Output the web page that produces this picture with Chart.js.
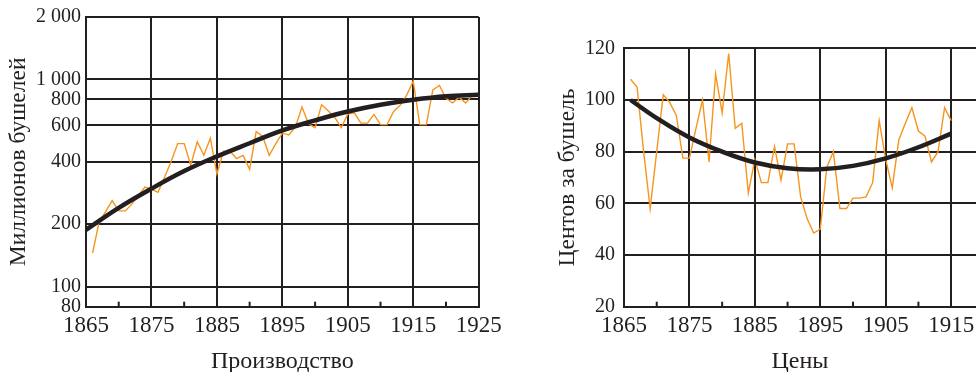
<!DOCTYPE html>
<html><head><meta charset="utf-8">
<script src="https://cdn.jsdelivr.net/npm/chart.js@4.4.1/dist/chart.umd.min.js"></script>
<style>
html,body{margin:0;padding:0;width:976px;height:372px;overflow:hidden;background:#fff;}
#c1{position:absolute;left:0;top:0;}
#c2{position:absolute;left:540px;top:0;}
</style></head><body>
<canvas id="c1" width="520" height="372"></canvas>
<canvas id="c2" width="460" height="372"></canvas>
<script>
// ---------- data ----------
const prodYears = [1866,1867,1868,1869,1870,1871,1872,1873,1874,1875,1876,1877,1878,1879,1880,1881,1882,1883,1884,1885,1886,1887,1888,1889,1890,1891,1892,1893,1894,1895,1896,1897,1898,1899,1900,1901,1902,1903,1904,1905,1906,1907,1908,1909,1910,1911,1912,1913,1914,1915,1916,1917,1918,1919,1920,1921,1922,1923,1924,1925];
const production = [145,205,230,260,232,232,250,275,302,295,285,337,400,490,490,385,500,430,520,350,450,450,415,430,368,560,530,430,490,550,540,590,735,610,585,755,705,655,585,680,690,615,615,678,605,605,700,750,840,980,605,605,890,935,810,770,820,770,835,830];
const prodTrendYears = [1865,1870,1875,1880,1885,1890,1895,1900,1905,1910,1915,1920,1925];
const prodTrend = [188,240,297,361,425,492,567,634,700,755,798,830,843];

const priceYears = [1866,1867,1868,1869,1870,1871,1872,1873,1874,1875,1876,1877,1878,1879,1880,1881,1882,1883,1884,1885,1886,1887,1888,1889,1890,1891,1892,1893,1894,1895,1896,1897,1898,1899,1900,1901,1902,1903,1904,1905,1906,1907,1908,1909,1910,1911,1912,1913,1914,1915];
const prices = [108,105,80,58,80,102,99,94,77.5,77.5,89,100,76,110,95,118,89,91,64,77,68,68,82,69,83,83,62.5,54,48.5,50,74,80,58,58,62,62,62.5,68,92,77,66,84.5,91,97,88,86,76,80,97,92];
const priceTrendYears = [1866,1870,1875,1880,1885,1890,1895,1900,1905,1910,1915];
const priceTrend = [100,93,85.5,80,75.8,73.6,73.2,74.5,77.4,81.7,87];

const prodXTicks = [1865,1875,1885,1895,1905,1915,1925];
const prodXMinor = [1870,1880,1890,1900,1910,1920];
const prodYTicks = [80,100,200,400,600,800,1000,2000];
const prodYLabels = ['80','100','200','400','600','800','1 000','2 000'];

const priceXTicks = [1865,1875,1885,1895,1905,1915];
const priceXMinor = [1870,1880,1890,1900,1910];
const priceYTicks = [20,40,60,80,100,120];
const priceYLabels = ['20','40','60','80','100','120'];

// ---------- style ----------
const INK = '#231F20';
const ORANGE = '#F7941D';
const FONT = "'Liberation Serif','Times New Roman',serif";

const minorTicks = {
  id: 'minorTicks',
  afterDatasetsDraw(chart, args, opts) {
    const xs = chart.scales.x, ca = chart.chartArea, ctx = chart.ctx;
    ctx.save();
    ctx.strokeStyle = INK; ctx.lineWidth = 2;
    for (const v of opts.values) {
      const px = xs.getPixelForValue(v);
      ctx.beginPath(); ctx.moveTo(px, ca.bottom); ctx.lineTo(px, ca.bottom - 5); ctx.stroke();
    }
    ctx.restore();
  }
};

function pts(xs, ys) { return xs.map((x, i) => ({x: x, y: ys[i]})); }

function makeChart(id, cfg) {
  return new Chart(document.getElementById(id), {
    type: 'line',
    data: {
      datasets: [
        {data: pts(cfg.years, cfg.values), borderColor: ORANGE, borderWidth: 1.4, pointRadius: 0, tension: 0, order: 2},
        {data: pts(cfg.trendYears, cfg.trend), borderColor: INK, borderWidth: 4.5, pointRadius: 0, tension: 0.4, order: 1}
      ]
    },
    plugins: [minorTicks],
    options: {
      responsive: false,
      animation: false,
      events: [],
      layout: {padding: cfg.padding},
      plugins: {legend: {display: false}, tooltip: {enabled: false}, minorTicks: {values: cfg.minor}},
      scales: {
        x: {
          type: 'linear', min: cfg.xmin, max: cfg.xmax,
          afterBuildTicks: s => { s.ticks = cfg.xticks.map(v => ({value: v})); },
          afterFit: s => { s.height = 65.3; },
          grid: {color: INK, lineWidth: 2, drawTicks: false},
          border: {display: true, color: INK, width: 2},
          ticks: {color: INK, font: {family: FONT, size: 23}, padding: 5, maxRotation: 0, autoSkip: false,
                  callback: v => String(v)},
          title: {display: true, text: cfg.xtitle, color: INK, font: {family: FONT, size: 24, lineHeight: 1}, padding: {top: 0, bottom: -2}}
        },
        y: {
          type: cfg.ytype, min: cfg.ymin, max: cfg.ymax,
          afterBuildTicks: s => { s.ticks = cfg.yticks.map(v => ({value: v})); },
          afterFit: s => { s.width = cfg.yw; },
          grid: {color: INK, lineWidth: 2, drawTicks: false},
          border: {display: true, color: INK, width: 2},
          ticks: {color: INK, font: {family: FONT, size: 20}, padding: cfg.ypad, autoSkip: false,
                  callback: (v, i) => cfg.ylabels[i]},
          title: {display: true, text: cfg.ytitle, color: INK, font: {family: FONT, size: 23.5, lineHeight: 1}, padding: {top: cfg.ytpad, bottom: 0}}
        }
      }
    }
  });
}

makeChart('c1', {
  years: prodYears, values: production, trendYears: prodTrendYears, trend: prodTrend,
  xmin: 1865, xmax: 1925, xticks: prodXTicks, minor: prodXMinor, xtitle: 'Производство',
  ytype: 'logarithmic', ymin: 80, ymax: 2000, yticks: prodYTicks, ylabels: prodYLabels,
  ytitle: 'Миллионов бушелей', yw: 86, ypad: 5, ytpad: 7,
  padding: {top: 17, right: 41.3, bottom: 0, left: 0}
});

makeChart('c2', {
  years: priceYears, values: prices, trendYears: priceTrendYears, trend: priceTrend,
  xmin: 1865, xmax: 1918.8, xticks: priceXTicks, minor: priceXMinor, xtitle: 'Цены',
  ytype: 'linear', ymin: 20, ymax: 120, yticks: priceYTicks, ylabels: priceYLabels,
  ytitle: 'Центов за бушель', yw: 84, ypad: 9, ytpad: 16,
  padding: {top: 48.3, right: 24, bottom: 0, left: 0}
});
</script>
</body></html>
